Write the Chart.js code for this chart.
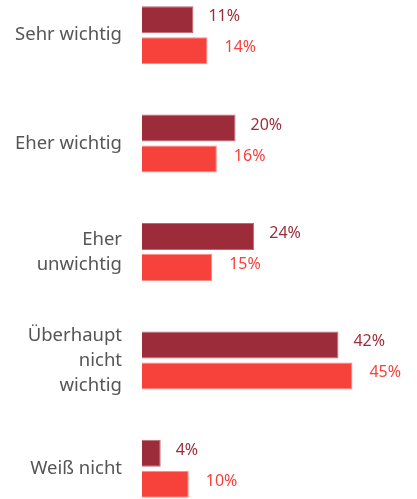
<!DOCTYPE html>
<html>
<head>
<meta charset="utf-8">
<script src="https://cdn.jsdelivr.net/npm/chart.js@4/dist/chart.umd.min.js"></script>
<style>
    html, body { margin: 0; padding: 0; background: #fff; overflow: hidden; }
    .wrap { width: 417px; height: 542px; margin-top: -19px; position: relative; }
</style>
</head>
<body>
<div class="wrap"><canvas id="importanceChart"></canvas></div>
<script>
// Survey answers and shares (percent)
const categories = [['Sehr wichtig'], ['Eher wichtig'], ['Eher', 'unwichtig'], ['Überhaupt', 'nicht', 'wichtig'], ['Weiß nicht']];
const seriesA = [11, 20, 24, 42, 4];
const seriesB = [14, 16, 15, 45, 10];

const darkRed = '#9c2c39', brightRed = '#f7413b';

// Value labels to the right of each bar
const valueLabels = {
    id: 'valueLabels',
    afterDatasetsDraw(chart) {
        const ctx = chart.ctx;
        ctx.save();
        ctx.font = '16px "Noto Sans"';
        ctx.textBaseline = 'middle';
        ctx.textAlign = 'left';
        chart.data.datasets.forEach((ds, i) => {
            const offset = i === 0 ? 15 : 17;
            chart.getDatasetMeta(i).data.forEach((bar, j) => {
                ctx.fillStyle = ds.labelColor;
                ctx.fillText(ds.data[j] + '%', bar.x + offset, bar.y - 3);
            });
        });
        ctx.restore();
    }
};

new Chart(document.getElementById('importanceChart'), {
    type: 'bar',
    data: {
        labels: categories,
        datasets: [{
            data: seriesA,
            backgroundColor: darkRed,
            borderColor: '#c06672',
            borderWidth: 1,
            labelColor: darkRed,
            categoryPercentage: 0.572,
            barPercentage: 0.87
        }, {
            data: seriesB,
            backgroundColor: brightRed,
            borderColor: '#fb8a86',
            borderWidth: 1,
            labelColor: brightRed,
            categoryPercentage: 0.572,
            barPercentage: 0.87
        }]
    },
    options: {
        indexAxis: 'y',
        responsive: true,
        maintainAspectRatio: false,
        animation: false,
        layout: { padding: 0 },
        plugins: { legend: { display: false }, tooltip: { enabled: false } },
        scales: {
            x: { display: false, min: 0, max: 58.8 },
            y: {
                border: { display: false },
                grid: { display: false, drawTicks: false },
                ticks: { color: '#555', padding: 20, font: { family: 'Noto Sans', size: 18.5, lineHeight: '25px' } },
                afterFit: scale => {
                    scale.width = 142;
                    scale.paddingTop = 0;
                    scale.paddingBottom = 0;
                }
            }
        }
    },
    plugins: [valueLabels]
});
</script>
</body>
</html>
